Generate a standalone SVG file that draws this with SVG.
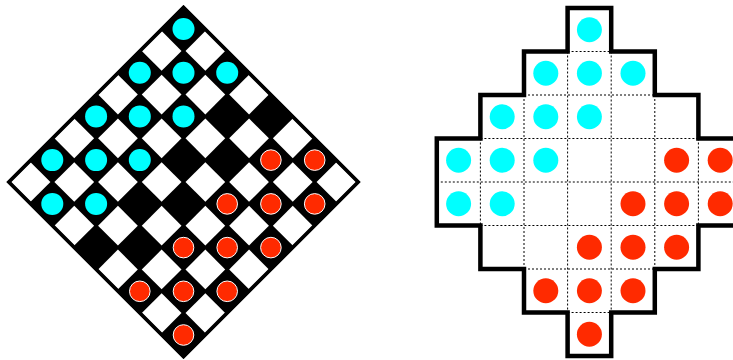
<svg xmlns="http://www.w3.org/2000/svg" width="733" height="360" viewBox="0 0 733 360">
<style>
.w{fill:#fff}
.cy{fill:#00ffff}
.rdl{fill:#ff2a00;stroke:#fff;stroke-width:1}
.rd{fill:#ff2a00}
.dot{stroke:#000;stroke-width:1;stroke-dasharray:2 2;fill:none}
.edge{fill:none;stroke:#000;stroke-width:4.5;stroke-linejoin:miter}
</style>
<rect width="733" height="360" fill="#fff"/>
<g id="diagonal-board">
<g transform="translate(183.5,182) rotate(45)">
<rect x="-125.2" y="-125.2" width="250.4" height="250.4" fill="#000"/>
<g class="w">
<rect x="-91.3" y="-122.2" width="28.1" height="28.1"/><rect x="-29.5" y="-122.2" width="28.1" height="28.1"/><rect x="32.3" y="-122.2" width="28.1" height="28.1"/><rect x="94.1" y="-122.2" width="28.1" height="28.1"/>
<rect x="-122.2" y="-91.3" width="28.1" height="28.1"/><rect x="-60.4" y="-91.3" width="28.1" height="28.1"/><rect x="1.4" y="-91.3" width="28.1" height="28.1"/><rect x="63.2" y="-91.3" width="28.1" height="28.1"/>
<rect x="-91.3" y="-60.4" width="28.1" height="28.1"/><rect x="-29.5" y="-60.4" width="28.1" height="28.1"/><rect x="32.3" y="-60.4" width="28.1" height="28.1"/><rect x="94.1" y="-60.4" width="28.1" height="28.1"/>
<rect x="-122.2" y="-29.5" width="28.1" height="28.1"/><rect x="-60.4" y="-29.5" width="28.1" height="28.1"/><rect x="1.4" y="-29.5" width="28.1" height="28.1"/><rect x="63.2" y="-29.5" width="28.1" height="28.1"/>
<rect x="-91.3" y="1.4" width="28.1" height="28.1"/><rect x="-29.5" y="1.4" width="28.1" height="28.1"/><rect x="32.3" y="1.4" width="28.1" height="28.1"/><rect x="94.1" y="1.4" width="28.1" height="28.1"/>
<rect x="-122.2" y="32.3" width="28.1" height="28.1"/><rect x="-60.4" y="32.3" width="28.1" height="28.1"/><rect x="1.4" y="32.3" width="28.1" height="28.1"/><rect x="63.2" y="32.3" width="28.1" height="28.1"/>
<rect x="-91.3" y="63.2" width="28.1" height="28.1"/><rect x="-29.5" y="63.2" width="28.1" height="28.1"/><rect x="32.3" y="63.2" width="28.1" height="28.1"/><rect x="94.1" y="63.2" width="28.1" height="28.1"/>
<rect x="-122.2" y="94.1" width="28.1" height="28.1"/><rect x="-60.4" y="94.1" width="28.1" height="28.1"/><rect x="1.4" y="94.1" width="28.1" height="28.1"/><rect x="63.2" y="94.1" width="28.1" height="28.1"/>
</g>
<rect x="-123.45" y="-123.45" width="246.9" height="246.9" fill="none" stroke="#000" stroke-width="3.5"/>
</g>
<g id="left-cyan" class="cy">
<circle cx="183.5" cy="29" r="11"/>
<circle cx="139.8" cy="72.7" r="11"/><circle cx="183.5" cy="72.7" r="11"/><circle cx="227.2" cy="72.7" r="11"/>
<circle cx="96.1" cy="116.4" r="11"/><circle cx="139.8" cy="116.4" r="11"/><circle cx="183.5" cy="116.4" r="11"/>
<circle cx="52.3" cy="160.1" r="11"/><circle cx="96.1" cy="160.1" r="11"/><circle cx="139.8" cy="160.1" r="11"/>
<circle cx="52.3" cy="203.9" r="11"/><circle cx="96.1" cy="203.9" r="11"/>
</g>
<g id="left-red" class="rdl">
<circle cx="270.9" cy="160.1" r="10.3"/><circle cx="314.7" cy="160.1" r="10.3"/>
<circle cx="227.2" cy="203.9" r="10.3"/><circle cx="270.9" cy="203.9" r="10.3"/><circle cx="314.7" cy="203.9" r="10.3"/>
<circle cx="183.5" cy="247.6" r="10.3"/><circle cx="227.2" cy="247.6" r="10.3"/><circle cx="270.9" cy="247.6" r="10.3"/>
<circle cx="139.8" cy="291.3" r="10.3"/><circle cx="183.5" cy="291.3" r="10.3"/><circle cx="227.2" cy="291.3" r="10.3"/>
<circle cx="183.5" cy="335" r="10.3"/>
</g>
</g>
<g id="grid-board">
<g class="dot">
<path d="M567.6,51.5H611.2M524,95H654.8M480.4,138.5H698.4M436.8,182H742M480.4,225.5H698.4M524,269H654.8M567.6,312.5H611.2"/>
<path d="M480.4,138.5V225.5M524,95V269M567.6,51.5V312.5M611.2,51.5V312.5M654.8,95V269M698.4,138.5V225.5"/>
</g>
<path class="edge" d="M567.6,8H611.2V51.5H654.8V95H698.4V138.5H742V225.5H698.4V269H654.8V312.5H611.2V356H567.6V312.5H524V269H480.4V225.5H436.8V138.5H480.4V95H524V51.5H567.6Z"/>
<g id="right-cyan" class="cy">
<circle cx="589.4" cy="29.75" r="12.5"/>
<circle cx="545.8" cy="73.25" r="12.5"/><circle cx="589.4" cy="73.25" r="12.5"/><circle cx="633" cy="73.25" r="12.5"/>
<circle cx="502.2" cy="116.75" r="12.5"/><circle cx="545.8" cy="116.75" r="12.5"/><circle cx="589.4" cy="116.75" r="12.5"/>
<circle cx="458.6" cy="160.25" r="12.5"/><circle cx="502.2" cy="160.25" r="12.5"/><circle cx="545.8" cy="160.25" r="12.5"/>
<circle cx="458.6" cy="203.75" r="12.5"/><circle cx="502.2" cy="203.75" r="12.5"/>
</g>
<g id="right-red" class="rd">
<circle cx="676.6" cy="160.25" r="12.5"/><circle cx="720.2" cy="160.25" r="12.5"/>
<circle cx="633" cy="203.75" r="12.5"/><circle cx="676.6" cy="203.75" r="12.5"/><circle cx="720.2" cy="203.75" r="12.5"/>
<circle cx="589.4" cy="247.25" r="12.5"/><circle cx="633" cy="247.25" r="12.5"/><circle cx="676.6" cy="247.25" r="12.5"/>
<circle cx="545.8" cy="290.75" r="12.5"/><circle cx="589.4" cy="290.75" r="12.5"/><circle cx="633" cy="290.75" r="12.5"/>
<circle cx="589.4" cy="334.25" r="12.5"/>
</g>
</g>
</svg>
